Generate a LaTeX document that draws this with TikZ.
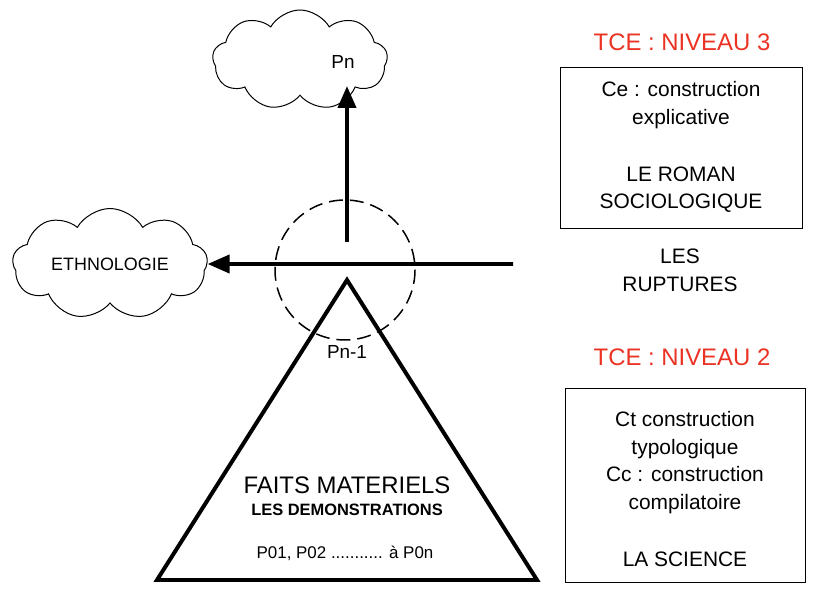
\documentclass[tikz,border=0pt]{standalone}
\usepackage{fontspec}
\setmainfont{Liberation Sans}
\usetikzlibrary{shapes.symbols,arrows.meta}
\definecolor{tcered}{RGB}{235,50,35}
\tikzset{
  nuage/.style={cloud, draw, line width=1pt, cloud puffs=9, cloud puff arc=120, aspect=2, inner sep=0pt},
  fleche/.style={line width=4pt, -{Triangle[length=22pt,width=18pt]}},
  titre/.style={tcered, font=\fontsize{24}{28}\selectfont},
  boite/.style={align=center, font=\fontsize{21}{28}\selectfont}
}
\begin{document}
\begin{tikzpicture}[x=1bp,y=-1bp]
        \useasboundingbox (0,0) rectangle (822,610);
        % nuages
        \node [nuage, minimum width=175bp, minimum height=100bp] (haut) at (300,60) {};
        \node [font=\fontsize{19}{20}\selectfont] (pn) at (343,62) {Pn};
        \node [nuage, minimum width=195bp, minimum height=82bp, font=\fontsize{18}{20}\selectfont] (ethno) at (110,264) {ETHNOLOGIE};
        % cercle et triangle
        \draw [line width=1.5pt, dash pattern=on 14pt off 7pt] (345,270) circle (70);
        \coordinate (sommet) at (347,280);
        \coordinate (basg) at (157,580);
        \coordinate (basd) at (537,580);
        \draw [line width=4pt, line join=miter] (sommet) -- (basd) -- (basg) -- cycle;
        % fleches
        \coordinate (depart) at (347,242);
        \coordinate (bout) at (347,86);
        \coordinate (droite) at (513,264);
        \draw [fleche] (depart) -- (bout);
        \draw [fleche] (droite) -- (ethno.east);
        \node [font=\fontsize{19}{22}\selectfont] (pn1) at (347,352) {Pn-1};
        \node [font=\fontsize{24}{28}\selectfont] (faits) at (347,485) {FAITS MATERIELS};
        \node [font=\bfseries\fontsize{16.5}{20}\selectfont] (demo) at (347,510) {LES DEMONSTRATIONS};
        \node [font=\fontsize{17}{20}\selectfont] (p0) at (345,553) {P01, P02 ........... à P0n};
        % colonne de droite
        \node [titre] (n3) at (682,42) {TCE : NIVEAU 3};
        \draw [line width=1pt] (560,68) rectangle (802,228);
        \node [boite] (b3) at (681,147) {Ce : construction\\explicative\\[29bp]LE ROMAN\\SOCIOLOGIQUE};
        \node [boite] (rupt) at (680,270) {LES\\RUPTURES};
        \node [titre] (n2) at (682,357) {TCE : NIVEAU 2};
        \draw [line width=1pt] (565,388) rectangle (805,582);
        \node [boite] (b2) at (685,489) {Ct construction\\typologique\\Cc : construction\\compilatoire\\[29bp]LA SCIENCE};
\end{tikzpicture}
\end{document}
